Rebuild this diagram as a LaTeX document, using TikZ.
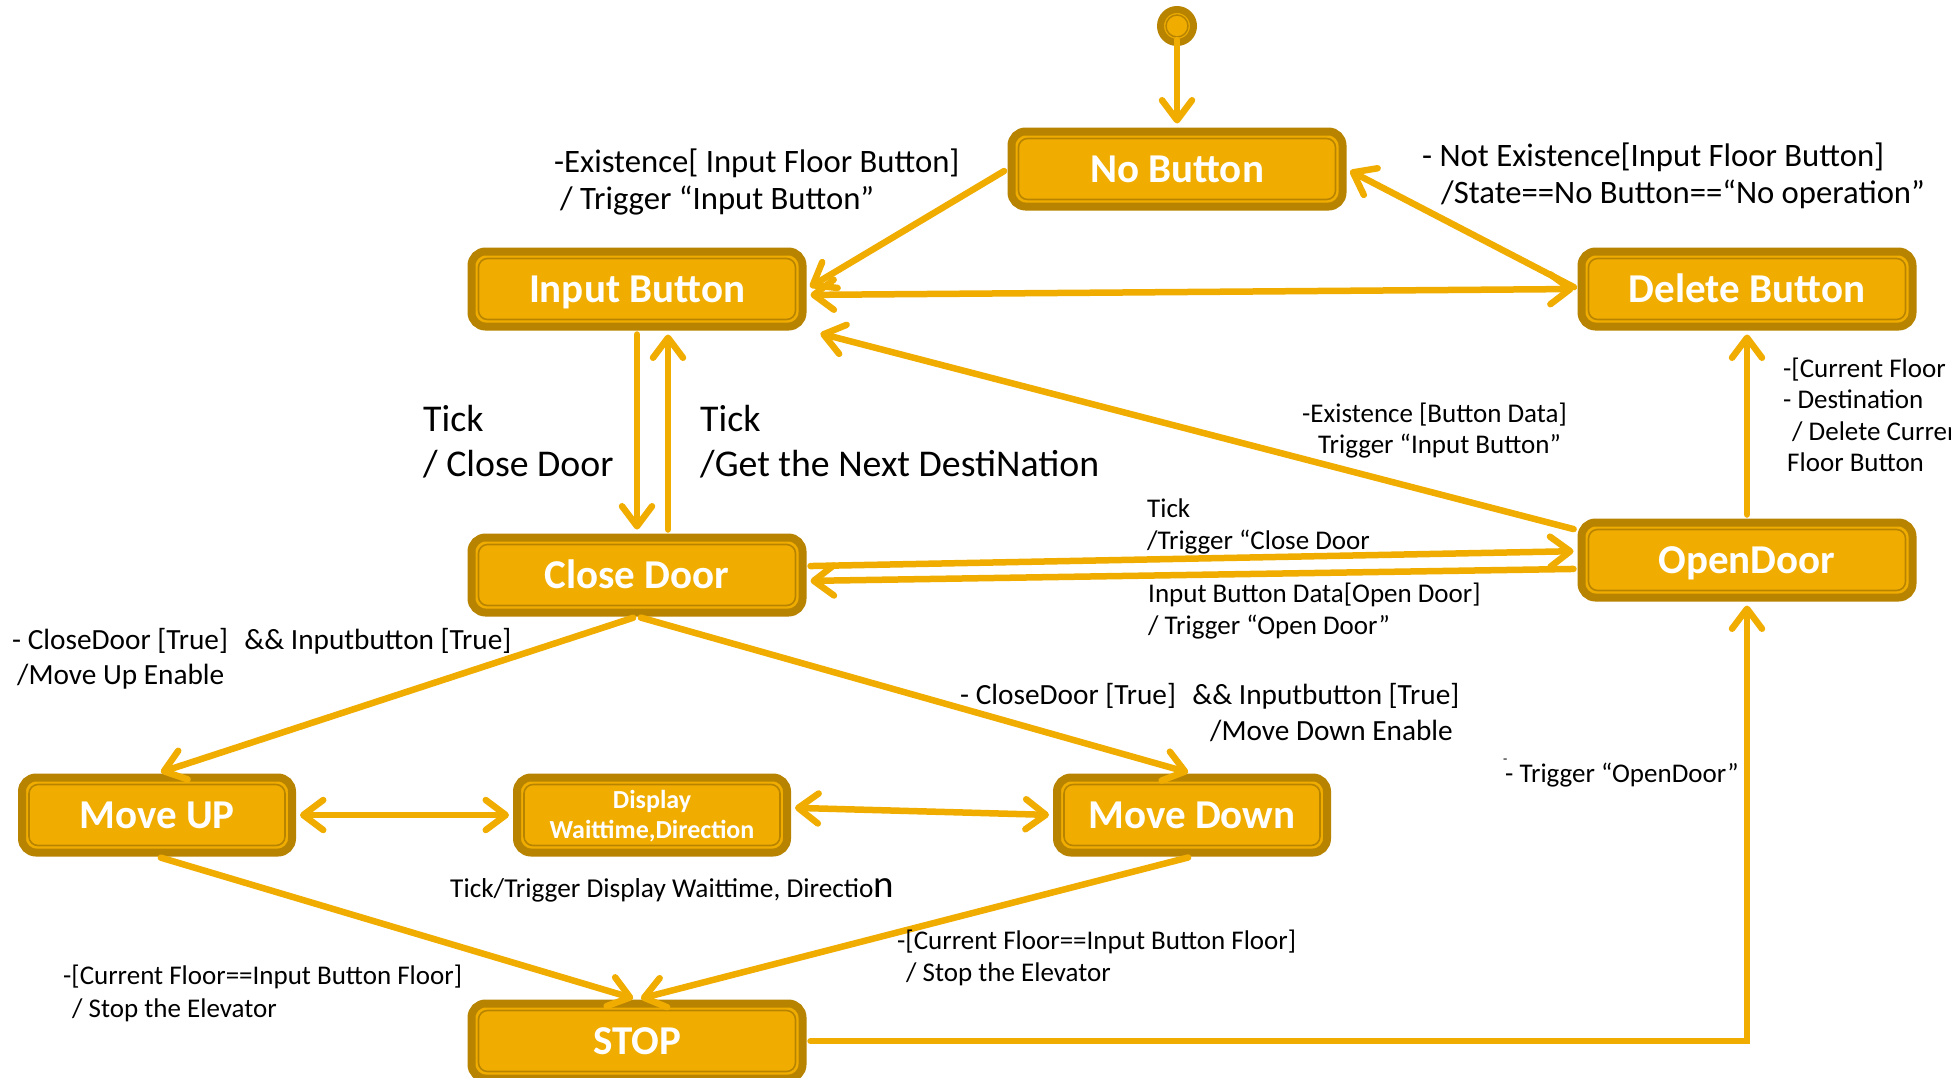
\documentclass[tikz,border=0pt]{standalone}
\usepackage{fontspec}
\setmainfont{Carlito}
\usetikzlibrary{arrows.meta,calc}
\definecolor{boxfill}{RGB}{240,173,0}
\definecolor{boxdark}{RGB}{184,132,0}
\definecolor{arrowc}{RGB}{240,173,0}
\begin{document}
\begin{tikzpicture}[x=1pt,y=-1pt,
  >={Straight Barb[length=20pt,width=30pt,round]},
  state/.style={rounded corners=14pt, fill=boxfill, draw=boxdark, line width=8pt,
    minimum width=331pt, minimum height=75pt, inner sep=0pt, text=white,
    font=\bfseries\fontsize{41}{41}\selectfont, text height=26.4pt, text depth=0pt,
    path picture={\draw[boxdark, line width=1.6pt, rounded corners=9pt]
      ([shift={(7pt,7pt)}]path picture bounding box.south west) rectangle
      ([shift={(-7pt,-7pt)}]path picture bounding box.north east);}},
  smallstate/.style={state, minimum width=270pt},
  conn/.style={draw=arrowc, line width=6.5pt, line cap=round, shorten >=4pt, shorten <=4pt},
  lab/.style={inner sep=0pt, anchor=base west, text=black, font=\fontsize{27}{32}\selectfont},
  labwide/.style={lab, font=\fontsize{29.3}{34}\selectfont},
  labbig/.style={lab, font=\fontsize{32.7}{38}\selectfont},
  labtick/.style={lab, font=\fontsize{37.8}{44}\selectfont}]
\useasboundingbox (0,0) rectangle (1951,1077);
\clip (0,0) rectangle (1951,1077);
\fill[white] (0,0) rectangle (1951,1077);

% states
\node[circle, fill=boxfill, draw=boxdark, line width=7pt, minimum size=33pt, inner sep=0pt,
  path picture={\draw[boxdark, line width=1.5pt] (path picture bounding box.center) circle (11pt);}]
  (init) at (1177,26) {};
\node[state] (nb) at (1177,169) {No Button};
\node[state] (ib) at (637,289) {Input Button};
\node[state] (db) at (1747,289) {Delete Button};
\node[state] (od) at (1747,560) {OpenDoor};
\node[state] (cd) at (637,575) {Close Door};
\node[smallstate] (mu) at (157,815) {Move UP};
\node[smallstate, align=center, font=\bfseries\fontsize{26}{30}\selectfont, text height=47pt, text depth=0pt] (dp) at (652,815) {Display\\Waittime,Direction};
\node[smallstate] (md) at (1192,815) {Move Down};
\node[state] (stop) at (637,1041) {STOP};

% connectors
\draw[conn,->] ([yshift=-10pt]init.center) -- (nb.north);
\draw[conn,->] (nb.west) -- (ib.east);
\draw[conn,->] (db.west) -- (nb.east);
\draw[conn,<->] (ib.-2) -- (db.west);
\draw[conn,->] (od.170) -- ($(ib.south east)+(10pt,-2pt)$);
\draw[conn,->] (ib.south) -- (cd.north);
\draw[conn,->] ([xshift=31pt]cd.north) -- ([xshift=31pt]ib.south);
\draw[conn,->] (cd.3) -- (od.177);
\draw[conn,->] (od.-177.5) -- (cd.-2);
\draw[conn,->] (cd.south) -- (mu.north);
\draw[conn,->] (cd.south) -- (md.north);
\draw[conn,<->] (mu.east) -- (dp.west);
\draw[conn,<->] (dp.3) -- (md.west);
\draw[conn,->] (mu.south) -- (stop.north);
\draw[conn,->] (md.south) -- (stop.north);
\draw[conn,->] (stop.east) -| (od.south);
\draw[conn,->] (od.north) -- (db.south);

% labels
\node[labbig] (l1a) at (554,172) {-Existence[ Input Floor Button]};
\node[labbig] (l1b) at (560,209) {/ Trigger “Input Button”};
\node[labbig] (l2a) at (1422,166) {- Not Existence[Input Floor Button]};
\node[labbig] (l2b) at (1441,203) {/State==No Button==“No operation”};
\node[labtick] (l3a) at (423,431) {Tick};
\node[labtick] (l3b) at (423,476) {/ Close Door};
\node[labtick] (l4a) at (700,431) {Tick};
\node[labtick] (l4b) at (700,476) {/Get the Next DestiNation};
\node[lab] (l5a) at (1302,422) {-Existence [Button Data]};
\node[lab] (l5b) at (1318,453) {Trigger “Input Button”};
\node[lab] (l6a) at (1783,377) {-[Current Floor};
\node[lab] (l6b) at (1783,408) {- Destination};
\node[lab] (l6c) at (1792,440) {/ Delete Current};
\node[lab] (l6d) at (1787,471) {Floor Button};
\node[lab] (l7a) at (1147,517) {Tick};
\node[lab] (l7b) at (1147,549) {/Trigger “Close Door};
\node[lab] (l8a) at (1148,602) {Input Button Data[Open Door]};
\node[lab] (l8b) at (1148,634) {/ Trigger “Open Door”};
\node[labwide] (l9a) at (12,649) {- CloseDoor [True]\hspace{0.33em} \&\& Inputbutton [True]};
\node[labwide] (l9b) at (17,684) {/Move Up Enable};
\node[labwide] (l10a) at (960,704) {- CloseDoor [True]\hspace{0.33em} \&\& Inputbutton [True]};
\node[labwide] (l10b) at (1210,740) {/Move Down Enable};
\node[lab, font=\fontsize{27.3}{32}\selectfont] (l11) at (450,897) {Tick/Trigger Display Waittime, Directio{\fontsize{39}{39}\selectfont n}};
\node[lab] (l12a) at (63,984) {-[Current Floor==Input Button Floor]};
\node[lab] (l12b) at (72,1017) {/ Stop the Elevator};
\node[lab] (l13a) at (897,949) {-[Current Floor==Input Button Floor]};
\node[lab] (l13b) at (906,981) {/ Stop the Elevator};
\node[lab, font=\fontsize{14}{14}\selectfont] (l14z) at (1503,763) {-};
\node[lab] (l14a) at (1505,782) {- Trigger “OpenDoor”};
\end{tikzpicture}
\end{document}
